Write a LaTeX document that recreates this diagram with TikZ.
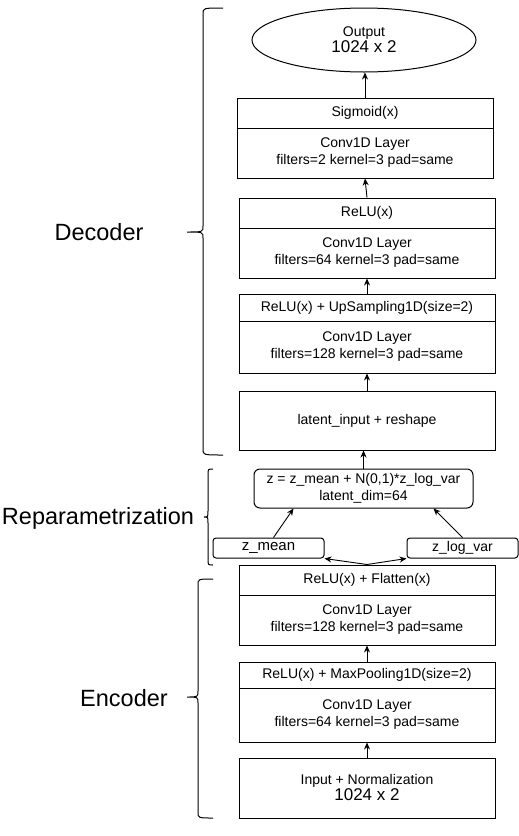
\documentclass[tikz,border=0pt]{standalone}
\usepackage{fontspec}
\setmainfont{Liberation Sans}
\usetikzlibrary{arrows.meta,shapes.geometric}
\newcommand\bodyfont{\fontsize{14}{17}\selectfont}
\newcommand\bigfont{\fontsize{17}{19}\selectfont}
\newcommand\labfont{\fontsize{23.5}{28}\selectfont}
\newcommand\mybrace[6]{% right x, spine x, tip x, top y, bottom y, mid y
  \draw[bracestyle] ({#1},{#4}) .. controls ({#2},{#4}) .. ({#2},{#4+6})
    -- ({#2},{#6-6}) .. controls ({#2},{#6}) .. ({#3},{#6})
    .. controls ({#2},{#6}) .. ({#2},{#6+6})
    -- ({#2},{#5-6}) .. controls ({#2},{#5}) .. ({#1},{#5});}
\tikzset{
  box/.style={draw=black, line width=1pt, rectangle, inner sep=0pt, align=center, font=\bodyfont, text=black},
  rbox/.style={box, rounded corners=6pt},
  sbox/.style={box, rounded corners=3pt},
  arr/.style={line width=0.9pt, -{Stealth[length=7pt,width=6pt]}},
  bracestyle/.style={line width=1pt},
  side/.style={font=\labfont, text=black, inner sep=0pt}
}
\begin{document}
\begin{tikzpicture}[x=1pt,y=-1pt]
\useasboundingbox (0,0) rectangle (519,836);
\fill[white] (0,0) rectangle (519,836);

% Decoder
\node[box, ellipse, minimum width=224pt, minimum height=64pt] (out) at (364,40)
  {\bodyfont Output\\[-1pt]\bigfont 1024 x 2};

\node[box, minimum width=256pt, minimum height=30pt] (sigh) at (365,113) {Sigmoid(x)};
\node[box, minimum width=256pt, minimum height=50pt] (sigb) at (365,153)
  {Conv1D Layer\\filters=2 kernel=3 pad=same};

\node[box, minimum width=256pt, minimum height=30pt] (reluh) at (367,213) {ReLU(x)};
\node[box, minimum width=256pt, minimum height=50pt] (relub) at (367,253)
  {Conv1D Layer\\filters=64 kernel=3 pad=same};

\node[box, minimum width=256pt, minimum height=27pt] (uph) at (367,307.5) {ReLU(x) + UpSampling1D(size=2)};
\node[box, minimum width=256pt, minimum height=52pt] (upb) at (367,347)
  {Conv1D Layer\\filters=128 kernel=3 pad=same};

\node[box, minimum width=256pt, minimum height=59pt] (lat) at (367,420.5) {latent\_input + reshape};

% Reparametrization
\node[rbox, minimum width=219pt, minimum height=39pt] (z) at (363.5,488.5)
  {z = z\_mean + N(0,1)*z\_log\_var\\latent\_dim=64};
\node[sbox, minimum width=111pt, minimum height=20pt, font=\fontsize{15}{17}\selectfont] (zmean) at (268.5,548) {z\_mean};
\node[sbox, minimum width=111pt, minimum height=20pt] (zlv) at (462.5,548) {z\_log\_var};

% Encoder
\node[box, minimum width=256pt, minimum height=30pt] (flh) at (367,580) {ReLU(x) + Flatten(x)};
\node[box, minimum width=256pt, minimum height=50pt] (flb) at (367,620)
  {Conv1D Layer\\filters=128 kernel=3 pad=same};

\node[box, minimum width=256pt, minimum height=26pt] (mph) at (367,675) {ReLU(x) + MaxPooling1D(size=2)};
\node[box, minimum width=256pt, minimum height=54pt] (mpb) at (367,715)
  {Conv1D Layer\\filters=64 kernel=3 pad=same};

\node[box, minimum width=256pt, minimum height=60pt] (inp) at (367,788)
  {Input + Normalization\\[-1pt]\bigfont 1024 x 2};

% Connectors
\draw[arr] (sigh.north) -- (sigh.north |- out.south);
\draw[arr] (reluh.north) -- (sigb.south);
\draw[arr] (uph.north) -- (relub.south);
\draw[arr] (lat.north) -- (upb.south);
\draw[arr] (z.north) -- (z.north |- lat.south);
\draw[arr] ([xshift=5pt]zmean.north) -- ([xshift=-70pt]z.south);
\draw[arr] (zlv.north) -- ([xshift=70pt]z.south);
\draw[arr] (flh.north) -- (zmean.south east);
\draw[arr] (flh.north) -- (zlv.south west);
\draw[arr] (mph.north) -- (flb.south);
\draw[arr] (inp.north) -- (mpb.south);

% Braces and labels
\mybrace{223}{203}{187}{8}{455}{232}
\mybrace{213}{208}{204}{469}{565}{517}
\mybrace{213}{198}{187}{579}{818}{697}
\node[side] (dec) at (99,232) {Decoder};
\node[side] (rep) at (98,518) {Reparametrization};
\node[side] (enc) at (124,698) {Encoder};
\end{tikzpicture}
\end{document}
